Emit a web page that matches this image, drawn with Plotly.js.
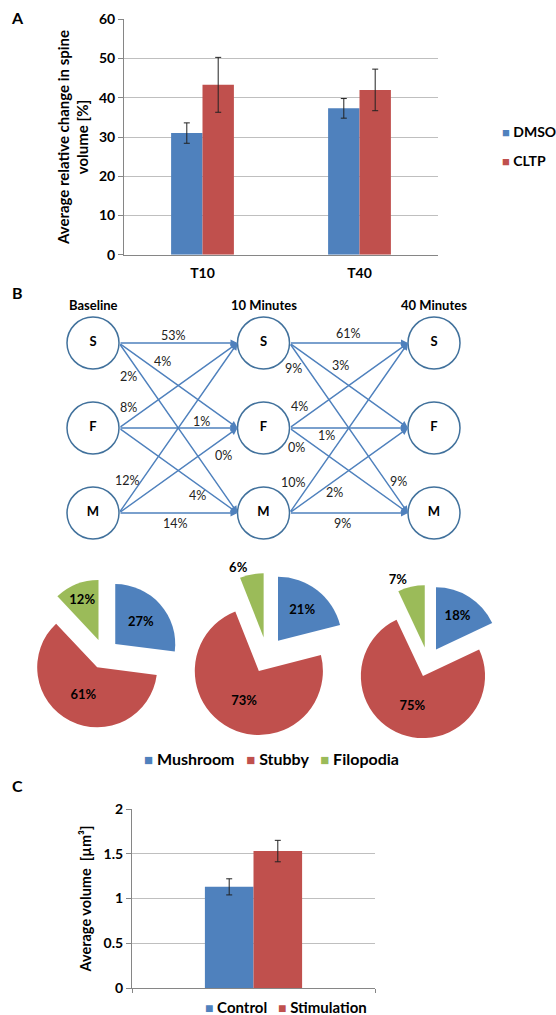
<!DOCTYPE html>
<html>
<head>
<meta charset="utf-8">
<script src="https://cdn.plot.ly/plotly-3.0.1.min.js"></script>
<style>
  html, body { margin: 0; padding: 0; background: #fff; }
  #fig { width: 556px; height: 1015px; }
</style>
</head>
<body>
<div id="fig"></div>
<script>
// ---------- Panel A: relative change in spine volume ----------
const timepoints = ['T10', 'T40'];
const seriesA = ['DMSO', 'CLTP'];
const dmsoMean = [31.0, 37.3];
const dmsoErr = [2.6, 2.5];
const cltpMean = [43.3, 42.0];
const cltpErr = [7.0, 5.3];

// ---------- Panel B: spine-type transitions ----------
const stages = ['Baseline', '10 Minutes', '40 Minutes'];
const states = ['S', 'F', 'M'];
const edgeFrom = ['S', 'S', 'S', 'F', 'F', 'F', 'M', 'M', 'M'];
const edgeTo = ['S', 'F', 'M', 'S', 'F', 'M', 'S', 'F', 'M'];
const pctBaselineTo10 = [53, 4, 2, 8, 1, 4, 12, 0, 14];
const pct10To40 = [61, 3, 9, 4, 1, 0, 10, 2, 9];

const spineTypes = ['Mushroom', 'Stubby', 'Filopodia'];
const pieBaseline = [27, 61, 12];
const pie10 = [21, 73, 6];
const pie40 = [18, 75, 7];

// ---------- Panel C: average spine volume ----------
const groupsC = ['Control', 'Stimulation'];
const volMean = [1.13, 1.53];
const volErr = [0.09, 0.12];

// ---------- styling ----------
const FONT = 'Lato, "Open Sans", sans-serif';
const BLUE = '#4F81BD', RED = '#C0504D', GREEN = '#9BBB59';
const GRID = '#BFBFBF', AXIS = '#868686';
const W = 556, H = 1015;
const px = v => v / W;          // horizontal pixel -> paper
const py = v => 1 - v / H;      // vertical pixel -> paper

// network geometry (pixels)
const COL_PX = 170.5, ROW_PX = 85, NODE_R = 26;
const NET_X0 = 93, NET_Y0 = 343, NET_TOP = 280, NET_BOT = 540;
const rx = NODE_R / COL_PX;

// label placement along each arrow: [fraction along arrow, vertical shift px]
const placeStage1 = [
  [[0.46, 8]], [[0.37, 13]], [[0.08, -20]],
  [[0.08, 14]], [[0.70, 7]], [[0.66, -11]],
  [[0.075, 20]], [[0.88, -17]], [[0.48, -10]]
];
const placeStage2 = [
  [[0.50, 10]], [[0.43, 14]], [[0.034, -20], [0.92, 18]],
  [[0.084, 14]], [[0.31, -7]], [[0.06, -14]],
  [[0.03, 25]], [[0.38, -12]], [[0.45, -10]]
];

const errStyle = v => ({ type: 'data', array: v, visible: true, color: '#222', thickness: 1, width: 3 });

const traces = [];

// Panel A bars
traces.push({
  type: 'bar', name: seriesA[0], x: timepoints, y: dmsoMean, error_y: errStyle(dmsoErr),
  marker: { color: BLUE }, xaxis: 'x', yaxis: 'y', showlegend: false, hoverinfo: 'skip'
});
traces.push({
  type: 'bar', name: seriesA[1], x: timepoints, y: cltpMean, error_y: errStyle(cltpErr),
  marker: { color: RED }, xaxis: 'x', yaxis: 'y', showlegend: false, hoverinfo: 'skip'
});

// Panel B nodes
const nodeX = [], nodeY = [], nodeText = [];
stages.forEach((s, c) => states.forEach((st, r) => { nodeX.push(c); nodeY.push(r); nodeText.push(st); }));
traces.push({
  type: 'scatter', mode: 'markers+text', x: nodeX, y: nodeY, text: nodeText,
  textposition: 'middle center',
  textfont: { family: FONT, size: 13, color: '#000', weight: 700 },
  marker: { size: NODE_R * 2, color: '#fff', line: { color: '#41719C', width: 1.5 } },
  xaxis: 'x2', yaxis: 'y2', showlegend: false, hoverinfo: 'skip', cliponaxis: false
});

// Panel B pies
const pieCommon = {
  type: 'pie', labels: spineTypes, sort: false, direction: 'clockwise', rotation: 0,
  marker: { colors: [BLUE, RED, GREEN], line: { width: 0 } },
  texttemplate: '%{value}%', insidetextorientation: 'horizontal',
  textfont: { family: FONT, size: 13, color: '#000', weight: 700 },
  showlegend: false, hoverinfo: 'skip'
};
traces.push(Object.assign({}, pieCommon, {
  values: pieBaseline, pull: 0.25, textposition: ['inside', 'inside', 'inside'],
  domain: { x: [px(29), px(179)], y: [py(729), py(579)] }
}));
traces.push(Object.assign({}, pieCommon, {
  values: pie10, pull: 0.28, textposition: ['inside', 'inside', 'outside'],
  domain: { x: [px(185), px(349)], y: [py(737), py(573)] }
}));
traces.push(Object.assign({}, pieCommon, {
  values: pie40, pull: 0.24, textposition: ['inside', 'inside', 'outside'],
  domain: { x: [px(351), px(505)], y: [py(739), py(585)] }
}));

// Panel C bars
traces.push({
  type: 'bar', name: groupsC[0], x: [0], y: [volMean[0]], error_y: errStyle([volErr[0]]),
  marker: { color: BLUE }, xaxis: 'x3', yaxis: 'y3', showlegend: false, hoverinfo: 'skip'
});
traces.push({
  type: 'bar', name: groupsC[1], x: [0], y: [volMean[1]], error_y: errStyle([volErr[1]]),
  marker: { color: RED }, xaxis: 'x3', yaxis: 'y3', showlegend: false, hoverinfo: 'skip'
});

// ---------- annotations ----------
const annotations = [];
const boldText = (size) => ({ family: FONT, size: size, color: '#000', weight: 700 });
const NBSP = '\u00A0';
const swatch = (color, size) => `<span style="color:${color};font-size:${size}px">■</span>`;

[['A', 18], ['B', 292], ['C', 785]].forEach(([t, y]) => annotations.push({
  text: t, xref: 'paper', yref: 'paper', x: px(17), y: py(y), showarrow: false,
  xanchor: 'center', yanchor: 'middle', font: boldText(16)
}));

stages.forEach((s, c) => annotations.push({
  text: s, xref: 'x2', yref: 'y2', x: c, y: -0.45, showarrow: false,
  xanchor: 'center', yanchor: 'middle', font: boldText(13)
}));

function addStage(c, pcts, places) {
  pcts.forEach((v, i) => {
    const r0 = states.indexOf(edgeFrom[i]);
    const r1 = states.indexOf(edgeTo[i]);
    const x0 = c + rx, x1 = c + 1 - rx;
    annotations.push({
      text: '', xref: 'x2', yref: 'y2', axref: 'x2', ayref: 'y2',
      x: x1, y: r1, ax: x0, ay: r0, showarrow: true,
      arrowhead: 2, arrowsize: 1, arrowwidth: 1.4, arrowcolor: BLUE, standoff: 0, startstandoff: 0
    });
    places[i].forEach(([t, dy]) => annotations.push({
      text: v + '%', xref: 'x2', yref: 'y2',
      x: x0 + t * (x1 - x0), y: r0 + t * (r1 - r0), yshift: dy, showarrow: false,
      xanchor: 'center', yanchor: 'middle',
      font: { family: FONT, size: 12.5, color: '#222' }
    }));
  });
}
addStage(0, pctBaselineTo10, placeStage1);
addStage(1, pct10To40, placeStage2);

// legend keys written as text entries with coloured squares
const colorsA = [BLUE, RED];
seriesA.forEach((name, i) => annotations.push({
  text: swatch(colorsA[i], 13) + NBSP + name, xref: 'paper', yref: 'paper',
  x: px(500), y: py(132 + 28 * i), xanchor: 'left', yanchor: 'middle', showarrow: false,
  font: boldText(14)
}));

const pieColors = [BLUE, RED, GREEN];
annotations.push({
  text: spineTypes.map((n, i) => swatch(pieColors[i], 15) + NBSP + n).join(NBSP + NBSP + NBSP),
  xref: 'paper', yref: 'paper', x: px(271), y: py(758), xanchor: 'center', yanchor: 'middle',
  showarrow: false, font: boldText(16)
});

annotations.push({
  text: groupsC.map((n, i) => swatch(colorsA[i], 14) + NBSP + n).join(NBSP + NBSP + NBSP),
  xref: 'paper', yref: 'paper', x: px(286), y: py(1007), xanchor: 'center', yanchor: 'middle',
  showarrow: false, font: boldText(15)
});

// ---------- layout ----------
const tickBold = { family: FONT, size: 14, color: '#000', weight: 700 };

const layout = {
  width: W, height: H,
  margin: { l: 0, r: 0, t: 0, b: 0 },
  paper_bgcolor: '#fff', plot_bgcolor: '#fff',
  font: { family: FONT, color: '#000' },
  barmode: 'group', bargap: 0.6, bargroupgap: 0,
  showlegend: false,
  xaxis: {
    domain: [px(124), px(438)], anchor: 'y', type: 'category',
    showline: true, linecolor: AXIS, linewidth: 1, ticks: '', showgrid: false,
    tickfont: tickBold, ticklabelstandoff: 5, automargin: false, fixedrange: true
  },
  yaxis: {
    domain: [py(254.7), py(19.3)], anchor: 'x', range: [0, 60], dtick: 10,
    showline: true, linecolor: AXIS, ticks: 'outside', ticklen: 5, tickcolor: AXIS,
    gridcolor: GRID, zeroline: false, tickfont: tickBold, automargin: false, fixedrange: true,
    title: { text: 'Average relative change in spine<br>volume [%]', font: boldText(15), standoff: 6 }
  },
  xaxis2: {
    domain: [0, 1], anchor: 'y2', visible: false, fixedrange: true,
    range: [-NET_X0 / COL_PX, (W - NET_X0) / COL_PX]
  },
  yaxis2: {
    domain: [py(NET_BOT), py(NET_TOP)], anchor: 'x2', visible: false, fixedrange: true,
    range: [(NET_BOT - NET_Y0) / ROW_PX, (NET_TOP - NET_Y0) / ROW_PX]
  },
  xaxis3: {
    domain: [px(132), px(375)], anchor: 'y3', range: [-0.5, 0.5],
    tickvals: [-0.5, 0.5], ticks: 'outside', ticklen: 4, tickcolor: AXIS,
    showticklabels: false, showline: true, linecolor: AXIS, showgrid: false, zeroline: false,
    automargin: false, fixedrange: true
  },
  yaxis3: {
    domain: [py(988), py(809)], anchor: 'x3', range: [0, 2], dtick: 0.5,
    showline: true, linecolor: AXIS, ticks: 'outside', ticklen: 5, tickcolor: AXIS,
    gridcolor: GRID, zeroline: false, tickfont: tickBold, automargin: false, fixedrange: true,
    title: { text: 'Average volume  [µm³]', font: boldText(14.5), standoff: 8 }
  },
  annotations: annotations
};

Plotly.newPlot('fig', traces, layout, { staticPlot: true, displayModeBar: false });
</script>
</body>
</html>
